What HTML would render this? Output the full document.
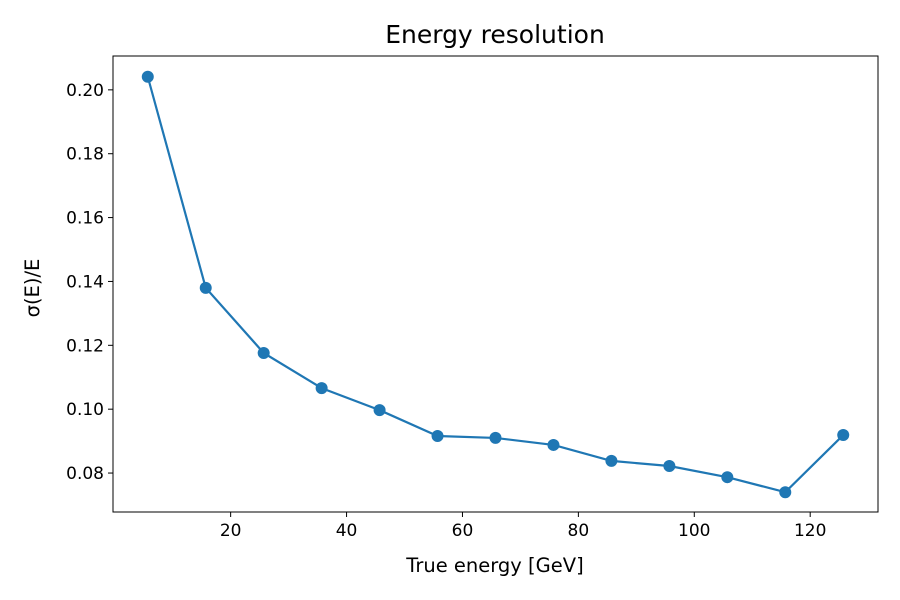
<!DOCTYPE html>
<html><head><meta charset="utf-8"><style>
body{margin:0;background:#fff}
svg{display:block;font-family:"DejaVu Sans","Liberation Sans",sans-serif}
</style></head><body>
<svg id="chart" width="900" height="600" viewBox="0 0 900 600" xmlns="http://www.w3.org/2000/svg"></svg>
<script>
const energies = [5.7,15.7,25.7,35.7,45.7,55.7,65.7,75.7,85.7,95.7,105.7,115.7,125.7];
const resolution = [0.2041,0.1380,0.1176,0.1066,0.0997,0.0916,0.0910,0.0888,0.0838,0.0822,0.0787,0.0740,0.0919];
const xTicks = [20,40,60,80,100,120];
const yTicks = [0.08,0.10,0.12,0.14,0.16,0.18,0.20];

const L=113,R=878,T=56,B=512;
const xMin=-0.3,xMax=131.7,yMin=0.0678,yMax=0.2106;
const xs=v=>L+(v-xMin)/(xMax-xMin)*(R-L);
const ys=v=>B-(v-yMin)/(yMax-yMin)*(B-T);
const svg=document.getElementById('chart');
const NS='http://www.w3.org/2000/svg';
function mk(tag,attrs,parent){const e=document.createElementNS(NS,tag);for(const k in attrs)e.setAttribute(k,attrs[k]);(parent||svg).appendChild(e);return e;}

let t=mk('text',{x:495,y:43,'text-anchor':'middle','font-size':25,fill:'#000'});
t.textContent='Energy resolution';



xTicks.forEach(v=>{
  const g=mk('g',{});
  
  
  mk('line',{x1:xs(v),x2:xs(v),y1:B,y2:B+5,stroke:'#000','stroke-width':1},g);
  const tx=mk('text',{x:xs(v),y:B+24,'text-anchor':'middle','font-size':17},g);
  tx.textContent=v;
});
yTicks.forEach(v=>{
  const g=mk('g',{});
  
  
  mk('line',{x1:L-5,x2:L,y1:ys(v),y2:ys(v),stroke:'#000','stroke-width':1},g);
  const tx=mk('text',{x:L-9,y:ys(v)+6,'text-anchor':'end','font-size':17},g);
  tx.textContent=v.toFixed(2);
});

t=mk('text',{x:495,y:572,'text-anchor':'middle','font-size':19.5});
t.textContent='True energy [GeV]';


t=mk('text',{x:39,y:288,'text-anchor':'middle','font-size':19.5,transform:'rotate(-90 39 288)'});
t.textContent='σ(E)/E';



const line=mk('polyline',{points:energies.map((e,i)=>xs(e)+','+ys(resolution[i])).join(' '),fill:'none',stroke:'#1f77b4','stroke-width':2.2});


energies.forEach((e,i)=>{
  const c=mk('circle',{cx:xs(e),cy:ys(resolution[i]),r:6,fill:'#1f77b4'});
  
  
});

const frame=mk('rect',{x:L,y:T,width:R-L,height:B-T,fill:'none',stroke:'#000','stroke-width':1});


</script>
</body></html>
